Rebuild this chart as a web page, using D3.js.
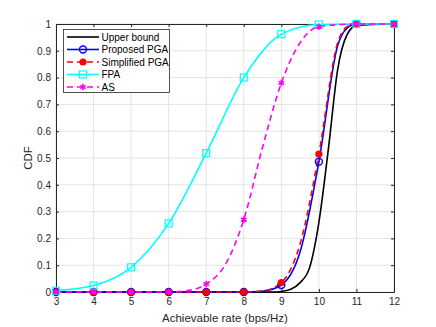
<!DOCTYPE html>
<html>
<head>
<meta charset="utf-8">
<script src="https://cdn.jsdelivr.net/npm/d3@7"></script>
<style>
  body { margin: 0; background: #fff; }
  text { font-family: "Liberation Sans", Arial, sans-serif; }
</style>
</head>
<body>
<svg id="chart"></svg>
<script>
const width = 436;
const height = 327;

// data
const xTicks = [3, 4, 5, 6, 7, 8, 9, 10, 11, 12];
const yTicks = [0, 0.1, 0.2, 0.3, 0.4, 0.5, 0.6, 0.7, 0.8, 0.9, 1];

const upperX = [3, 8, 8.75, 9, 9.25, 9.5, 9.75, 10, 10.25, 10.5, 10.75, 11, 12];
const upperY = [0, 0, 0, 0.002, 0.01, 0.035, 0.09, 0.26, 0.53, 0.83, 0.96, 0.995, 1];

const pgaX = [3, 4, 5, 6, 7, 8, 8.5, 9, 9.5, 10, 10.5, 10.75, 11, 12];
const pgaY = [0, 0, 0, 0, 0, 0, 0.003, 0.026, 0.15, 0.486, 0.92, 0.985, 1, 1];

const simpX = [3, 4, 5, 6, 7, 8, 8.5, 9, 9.5, 10, 10.5, 10.75, 11, 12];
const simpY = [0, 0, 0, 0, 0, 0, 0.004, 0.035, 0.18, 0.515, 0.93, 0.99, 1, 1];

const fpaX = [3, 4, 5, 6, 7, 8, 9, 10, 11, 12];
const fpaY = [0.005, 0.024, 0.092, 0.256, 0.518, 0.8, 0.962, 0.998, 1, 1];

const asX = [3, 4, 5, 6, 6.5, 7, 7.5, 8, 8.5, 9, 9.5, 10, 11, 12];
const asY = [0, 0, 0, 0, 0.005, 0.03, 0.1, 0.27, 0.54, 0.78, 0.93, 0.99, 1, 1];

const markerX = [3, 4, 5, 6, 7, 8, 9, 10, 11, 12];

const series = [
  { name: "Upper bound", xs: upperX, ys: upperY, color: "#000000", dash: null, marker: null },
  { name: "Proposed PGA", xs: pgaX, ys: pgaY, color: "#0000ff", dash: null, marker: "circle" },
  { name: "Simplified PGA", xs: simpX, ys: simpY, color: "#ff0000", dash: "6,4", marker: "dot" },
  { name: "FPA", xs: fpaX, ys: fpaY, color: "#00ffff", dash: null, marker: "square" },
  { name: "AS", xs: asX, ys: asY, color: "#ff00ff", dash: "6,4", marker: "star" }
];

const margin = { left: 56, top: 24, right: 42, bottom: 35 };
const x = d3.scaleLinear().domain([3, 12]).range([margin.left, width - margin.right]);
const y = d3.scaleLinear().domain([0, 1]).range([height - margin.bottom, margin.top]);

const svg = d3.select("#chart")
  .attr("width", width)
  .attr("height", height)
  .attr("viewBox", `0 0 ${width} ${height}`);

svg.append("rect").attr("width", width).attr("height", height).attr("fill", "#fff");

// grid
const grid = svg.append("g");
grid.selectAll("line.gx").data(xTicks).join("line")
  .attr("x1", d => x(d)).attr("x2", d => x(d))
  .attr("y1", y(0)).attr("y2", y(1))
  .attr("stroke", "#e3e3e3").attr("stroke-width", 1);
grid.selectAll("line.gy").data(yTicks).join("line")
  .attr("x1", x(3)).attr("x2", x(12))
  .attr("y1", d => y(d)).attr("y2", d => y(d))
  .attr("stroke", "#e3e3e3").attr("stroke-width", 1);

// axes (ticks inside, like matlab)
const axisColor = "#262626";
svg.append("g").attr("transform", `translate(0,${y(0)})`)
  .call(d3.axisBottom(x).tickValues(xTicks).tickSizeInner(-3).tickSizeOuter(0).tickPadding(6));
svg.append("g").attr("transform", `translate(${x(3)},0)`)
  .call(d3.axisLeft(y).tickValues(yTicks).tickSizeInner(-3).tickSizeOuter(0).tickPadding(5)
    .tickFormat(d => d === 0 || d === 1 ? d3.format("d")(d) : d3.format(".1f")(d)));
svg.append("g").attr("transform", `translate(0,${y(1)})`)
  .call(d3.axisTop(x).tickValues(xTicks).tickSizeInner(-3).tickSizeOuter(0).tickFormat(""));
svg.append("g").attr("transform", `translate(${x(12)},0)`)
  .call(d3.axisRight(y).tickValues(yTicks).tickSizeInner(-3).tickSizeOuter(0).tickFormat(""));

svg.selectAll(".domain").attr("stroke", axisColor);
svg.selectAll(".tick line").attr("stroke", axisColor);
svg.selectAll(".tick text").attr("fill", axisColor).style("font-size", "10px")
  .style("font-family", "Liberation Sans, Arial, sans-serif");

// plot lines
const plot = svg.append("g");
series.forEach(s => {
  const pts = s.xs.map((v, i) => [v, s.ys[i]]);
  const line = d3.line().x(d => x(d[0])).y(d => y(d[1])).curve(d3.curveMonotoneX);
  plot.append("path")
    .attr("d", line(pts))
    .attr("fill", "none")
    .attr("stroke", s.color)
    .attr("stroke-width", 1.6)
    .attr("stroke-dasharray", s.dash);
});

function drawMarker(g, type, color, cx, cy) {
  if (type === "circle") {
    g.append("circle").attr("cx", cx).attr("cy", cy).attr("r", 3.5)
      .attr("fill", "none").attr("stroke", color).attr("stroke-width", 1.4);
  } else if (type === "dot") {
    g.append("circle").attr("cx", cx).attr("cy", cy).attr("r", 3.6).attr("fill", color);
  } else if (type === "square") {
    g.append("rect").attr("x", cx - 3.5).attr("y", cy - 3.5).attr("width", 7).attr("height", 7)
      .attr("fill", "none").attr("stroke", color).attr("stroke-width", 1.2);
  } else if (type === "star") {
    g.append("path").attr("transform", `translate(${cx},${cy})`)
      .attr("d", d3.symbol(d3.symbolAsterisk, 28)())
      .attr("fill", "none").attr("stroke", color).attr("stroke-width", 1.6);
  }
}

series.forEach(s => {
  if (!s.marker) return;
  const g = plot.append("g");
  markerX.forEach(mx => {
    const i = s.xs.indexOf(mx);
    if (i < 0) return;
    drawMarker(g, s.marker, s.color, x(mx), y(s.ys[i]));
  });
});

// axis labels
svg.append("text")
  .attr("x", (x(3) + x(12)) / 2).attr("y", 322)
  .attr("text-anchor", "middle").attr("fill", axisColor)
  .style("font-size", "11.5px").text("Achievable rate (bps/Hz)");
svg.append("text")
  .attr("transform", `translate(32,${(y(0) + y(1)) / 2}) rotate(-90)`)
  .attr("text-anchor", "middle").attr("fill", axisColor)
  .style("font-size", "11.5px").text("CDF");

// legend
const legend = svg.append("g");
legend.append("rect").attr("x", 63.5).attr("y", 29.5).attr("width", 106).attr("height", 63)
  .attr("fill", "#fff").attr("stroke", axisColor).attr("stroke-width", 0.8);
series.forEach((s, i) => {
  const ly = 37 + i * 12.5;
  legend.append("line").attr("x1", 67).attr("x2", 99).attr("y1", ly).attr("y2", ly)
    .attr("stroke", s.color).attr("stroke-width", 1.6).attr("stroke-dasharray", s.dash);
  if (s.marker) drawMarker(legend, s.marker, s.color, 83, ly);
  legend.append("text").attr("x", 101.5).attr("y", ly + 3.5)
    .attr("fill", "#000").style("font-size", "10px").text(s.name);
});
</script>
</body>
</html>
